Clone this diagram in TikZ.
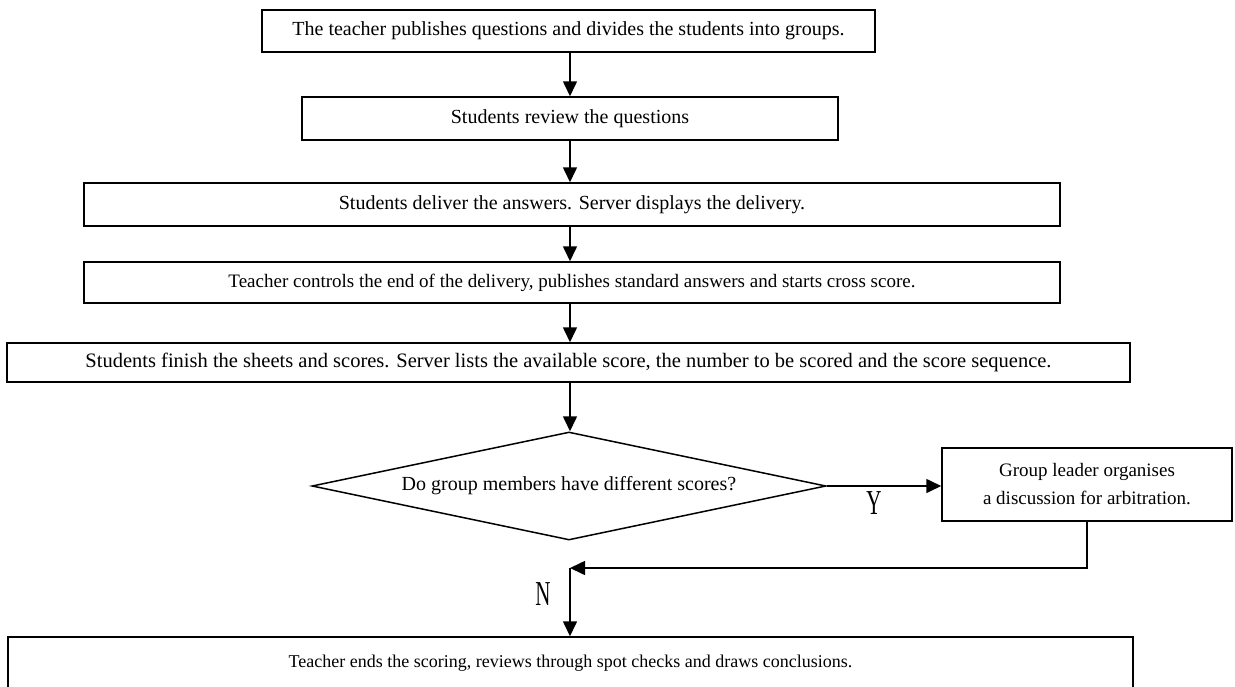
\documentclass[tikz,border=0pt]{standalone}
\usepackage{fontspec}
\setmainfont{Liberation Serif}
\usetikzlibrary{arrows.meta,shapes.geometric}
\begin{document}
\begin{tikzpicture}[x=1pt,y=-1pt,
  box/.style={draw=black, line width=1.5pt, inner sep=0pt, fill=white, font=\fontsize{20}{24}\selectfont},
  arr/.style={line width=1.6pt, -{Triangle[length=15pt,width=14pt]}},
  yn/.style={inner sep=0pt, font=\fontsize{35}{35}\selectfont}
]
\useasboundingbox (0,0) rectangle (1235,686);
\coordinate (ax) at (570,0);
\node[box, minimum width=613pt, minimum height=42pt] (b1) at (568.5,31) {The teacher publishes questions and divides the students into groups.};
\node[box, minimum width=536pt, minimum height=43pt] (b2) at (570,118.5) {Students review the questions};
\node[box, minimum width=976pt, minimum height=43pt] (b3) at (572,204.5) {Students deliver the answers. Server displays the delivery.};
\node[box, minimum width=976pt, minimum height=41pt, font=\fontsize{19}{23}\selectfont] (b4) at (572,282.5) {Teacher controls the end of the delivery, publishes standard answers and starts cross score.};
\node[box, minimum width=1123pt, minimum height=39pt, font=\fontsize{20.5}{25}\selectfont] (b5) at (568.5,362.5) {Students finish the sheets and scores. Server lists the available score, the number to be scored and the score sequence.};
\node[draw=black, line width=1.5pt, diamond, inner sep=0pt, shape aspect=4.76, minimum width=514pt, minimum height=108pt, font=\fontsize{20}{24}\selectfont] (d) at (569,486) {Do group members have different scores?};
\node[box, align=center, minimum width=290pt, minimum height=73pt, font=\fontsize{19}{28}\selectfont] (rb) at (1087,484.5) {Group leader organises\\a discussion for arbitration.};
\node[box, font=\fontsize{18}{22}\selectfont, minimum width=1125pt, minimum height=53pt] (bb) at (570.5,663.5) {Teacher ends the scoring, reviews through spot checks and draws conclusions.};
\coordinate (j) at (570,568);

\draw[arr] (b1.south -| ax) -- (b2.north -| ax);
\draw[arr] (b2.south -| ax) -- (b3.north -| ax);
\draw[arr] (b3.south -| ax) -- (b4.north -| ax);
\draw[arr] (b4.south -| ax) -- (b5.north -| ax);
\draw[arr] (b5.south -| ax) -- (d.north -| ax);
\draw[arr] (d.east) -- (d.east -| rb.west);
\draw[arr] (rb.south) |- (j);
\draw[arr] (j) -- (bb.north -| j);

\node[yn] (ylab) at (874,503.5) {\scalebox{0.6}[1]{Y}};
\node[yn] (nlab) at (543,594) {\scalebox{0.6}[1]{N}};
\end{tikzpicture}
\end{document}
